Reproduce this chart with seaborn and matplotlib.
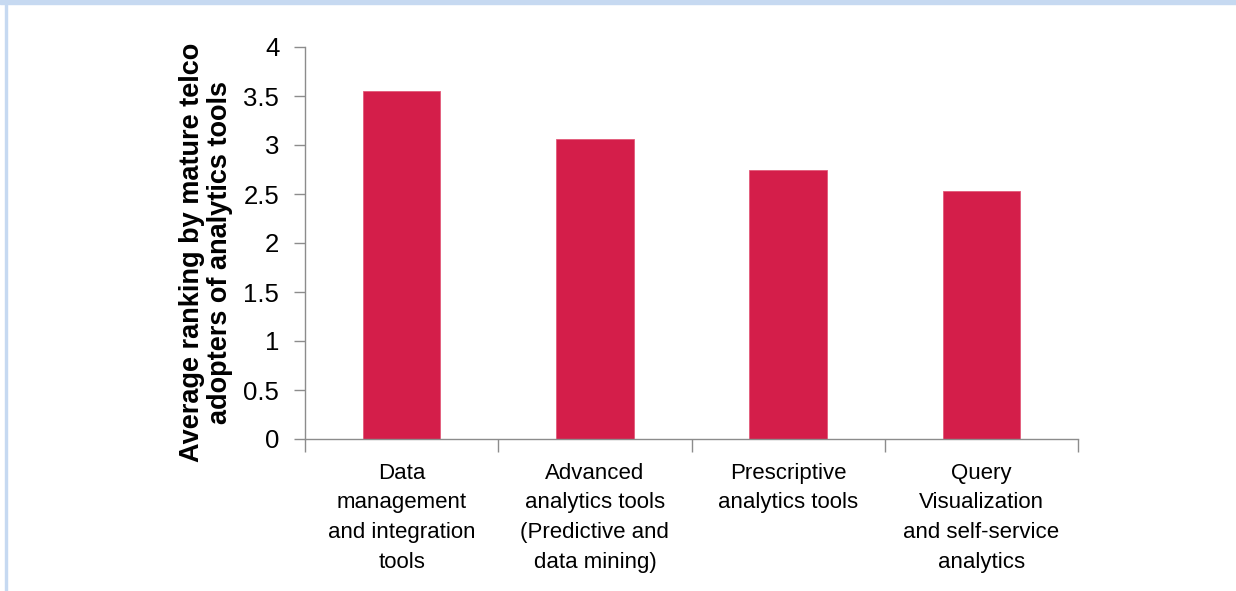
import matplotlib
matplotlib.use("Agg")
import matplotlib.pyplot as plt
import seaborn as sns
import pandas as pd
from matplotlib.ticker import FixedLocator

categories = [
    "Data\nmanagement\nand integration\ntools",
    "Advanced\nanalytics tools\n(Predictive and\ndata mining)",
    "Prescriptive\nanalytics tools",
    "Query\nVisualization\nand self-service\nanalytics",
]
values = [3.55, 3.06, 2.75, 2.53]
y_ticks = [0, 0.5, 1, 1.5, 2, 2.5, 3, 3.5, 4]
y_tick_labels = ["0", "0.5", "1", "1.5", "2", "2.5", "3", "3.5", "4"]
y_label = "Average ranking by mature telco\nadopters of analytics tools"

sns.set_theme(style="white")
plt.rcParams["font.family"] = ["Liberation Sans", "DejaVu Sans"]

df = pd.DataFrame({"category": categories, "value": values})

fig = plt.figure(figsize=(12.36, 5.91), dpi=100)
ax = fig.add_axes([305 / 1236, 1 - 439 / 591, (1078 - 305) / 1236, (439 - 47) / 591])

sns.barplot(data=df, x="category", y="value", color="#D41E4A", width=0.4,
            saturation=1, ax=ax, edgecolor="#E35A7A", linewidth=0.6)

ax.set_xlim(-0.5, len(categories) - 0.5)
ax.set_ylim(0, 4)
ax.yaxis.set_major_locator(FixedLocator(y_ticks))
ax.set_yticklabels(y_tick_labels)

ax.set_xlabel("")
ax.set_ylabel(y_label, fontsize=19.5, fontweight="bold", color="black",
              linespacing=1.12)
ax.yaxis.set_label_coords(-0.093, 0.477)

# Category labels at centers without tick marks, tick marks at boundaries
ax.tick_params(axis="x", which="major", length=0, pad=17, labelsize=16,
               labelcolor="black")
for lab in ax.get_xticklabels():
    lab.set_linespacing(1.55)
    lab.set_verticalalignment("top")
ax.xaxis.set_minor_locator(FixedLocator([-0.5, 0.5, 1.5, 2.5, 3.5]))
ax.tick_params(axis="x", which="minor", bottom=True, length=9, width=1,
               color="#8C8C8C", direction="out")
ax.tick_params(axis="y", which="major", left=True, length=8, width=1,
               color="#8C8C8C", direction="out", labelsize=18.5,
               labelcolor="black", pad=10.5)

for side in ["top", "right"]:
    ax.spines[side].set_visible(False)
for side in ["left", "bottom"]:
    ax.spines[side].set_color("#8C8C8C")
    ax.spines[side].set_linewidth(1)

# Page frame: light blue band at top and left edge
fig.patches.append(plt.Rectangle((0, 1 - 4 / 591), 1, 4 / 591,
                                 transform=fig.transFigure, color="#C6D9F1",
                                 zorder=0))
fig.patches.append(plt.Rectangle((5 / 1236, 0), 2.5 / 1236, 1,
                                 transform=fig.transFigure, color="#C6D9F1",
                                 zorder=0))

fig.savefig("out.png", dpi=100)
